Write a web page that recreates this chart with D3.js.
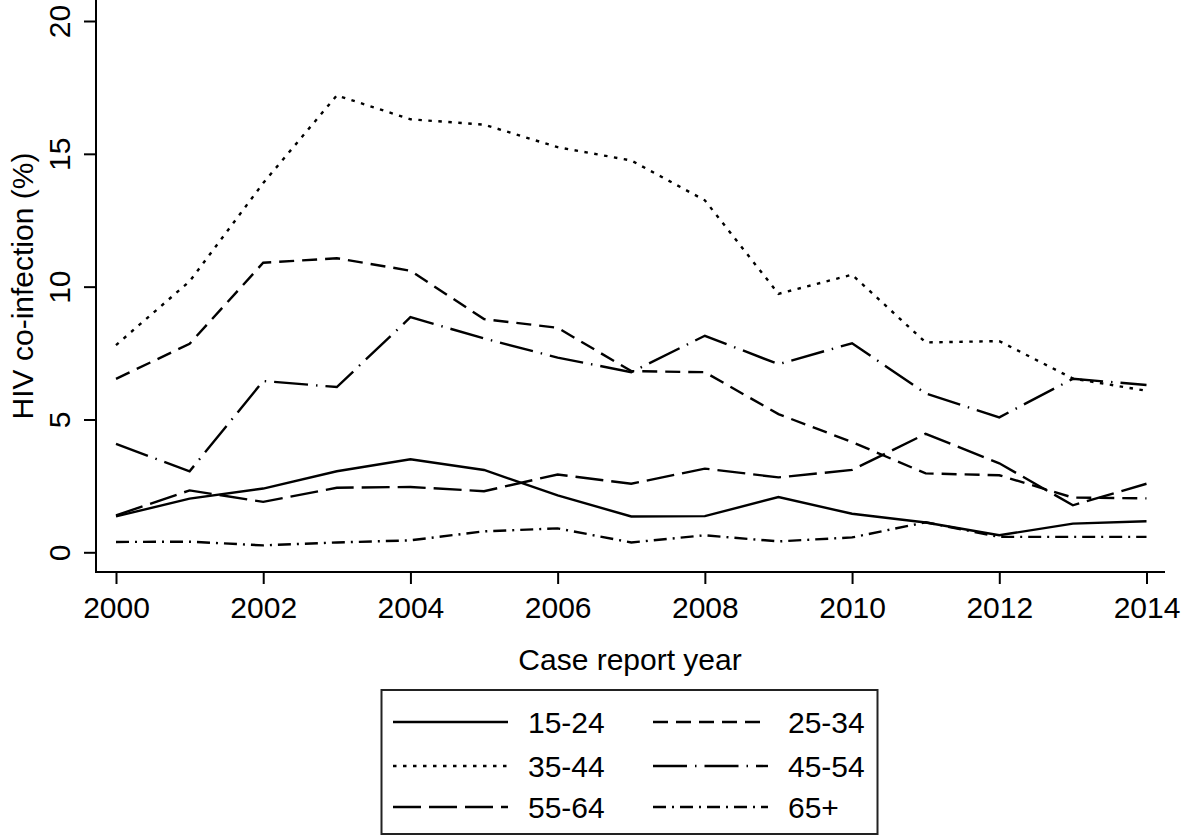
<!DOCTYPE html>
<html>
<head>
<meta charset="utf-8">
<script src="https://cdn.jsdelivr.net/npm/d3@7"></script>
<style>
  html, body { margin: 0; padding: 0; background: #fff; }
  svg { display: block; font-family: "Liberation Sans", Arial, sans-serif; }
</style>
</head>
<body>
<svg id="chart" width="1181" height="837"></svg>
<script>
// ---- data ----
const years = [2000,2001,2002,2003,2004,2005,2006,2007,2008,2009,2010,2011,2012,2013,2014];
const ages = ["15-24","25-34","35-44","45-54","55-64","65+"];
const s15_24 = [1.35,2.02,2.4,3.05,3.5,3.1,2.14,1.35,1.36,2.08,1.45,1.12,0.64,1.08,1.17];
const s25_34 = [6.53,7.85,10.9,11.07,10.6,8.78,8.45,6.82,6.78,5.2,4.15,2.97,2.9,2.06,2.03];
const s35_44 = [7.8,10.2,13.9,17.2,16.3,16.1,15.25,14.75,13.25,9.73,10.45,7.9,7.95,6.54,6.08];
const s45_54 = [4.08,3.05,6.45,6.22,8.85,8.05,7.33,6.78,8.15,7.08,7.87,5.98,5.08,6.53,6.3];
const s55_64 = [1.39,2.33,1.9,2.43,2.46,2.3,2.93,2.58,3.15,2.82,3.1,4.46,3.35,1.77,2.58];
const s65p   = [0.39,0.4,0.26,0.37,0.45,0.79,0.9,0.37,0.64,0.41,0.56,1.13,0.58,0.58,0.58];
const seriesValues = [s15_24, s25_34, s35_44, s45_54, s55_64, s65p];
const xTicks = [2000,2002,2004,2006,2008,2010,2012,2014];
const yTicks = [0,5,10,15,20];
const xTitle = "Case report year";
const yTitle = "HIV co-infection (%)";

// ---- styles ----
const dashes = ["none", "15,8", "3.5,6.5", "34,8,1.5,8", "28,8", "13,6,2,6"];

const svg = d3.select("#chart");
const x = d3.scaleLinear().domain([2000, 2014]).range([116, 1146.5]);
const y = d3.scaleLinear().domain([0, 20]).range([552.3, 21]);
const FS = 30;

// axes
const xAxisG = svg.append("g").attr("transform", "translate(0,572)");
xAxisG.append("line").attr("x1", 96).attr("x2", 1165).attr("y1", 0).attr("y2", 0)
  .attr("stroke", "#000").attr("stroke-width", 2);
xAxisG.call(g => {
  const ax = d3.axisBottom(x).tickValues(xTicks).tickFormat(d3.format("d")).tickSize(12).tickPadding(13);
  const inner = g.append("g").call(ax);
  inner.select(".domain").remove();
  inner.selectAll(".tick line").attr("stroke", "#000").attr("stroke-width", 2);
  inner.selectAll(".tick text").attr("font-size", FS).attr("fill", "#000")
    .attr("font-family", "Liberation Sans, Arial, sans-serif");
});

const yAxisG = svg.append("g").attr("transform", "translate(96,0)");
yAxisG.append("line").attr("x1", 0).attr("x2", 0).attr("y1", 0).attr("y2", 573)
  .attr("stroke", "#000").attr("stroke-width", 2);
yAxisG.call(g => {
  const ax = d3.axisLeft(y).tickValues(yTicks).tickSize(12).tickPadding(0);
  const inner = g.append("g").call(ax);
  inner.select(".domain").remove();
  inner.selectAll(".tick line").attr("stroke", "#000").attr("stroke-width", 2);
  inner.selectAll(".tick text").remove();
  inner.selectAll(".tick").append("text")
    .attr("transform", "translate(-26,0) rotate(-90)")
    .attr("text-anchor", "middle")
    .attr("font-size", FS).attr("fill", "#000")
    .text(d => d);
});

// titles
svg.append("text").attr("x", 630).attr("y", 670).attr("text-anchor", "middle")
  .attr("font-size", FS).attr("fill", "#000").text(xTitle);
svg.append("text").attr("transform", "translate(33,286) rotate(-90)")
  .attr("text-anchor", "middle").attr("font-size", FS).attr("fill", "#000").text(yTitle);

// lines
const line = d3.line().x((d, i) => x(years[i])).y(d => y(d));
seriesValues.forEach((vals, k) => {
  svg.append("path").datum(vals).attr("d", line)
    .attr("fill", "none").attr("stroke", "#000").attr("stroke-width", 2.4)
    .attr("stroke-dasharray", dashes[k]).attr("stroke-linejoin", "miter");
});

// legend
const lg = svg.append("g");
lg.append("rect").attr("x", 381.5).attr("y", 690).attr("width", 496).attr("height", 144)
  .attr("fill", "#fff").attr("stroke", "#222").attr("stroke-width", 2);
const colX = [393, 653];
const rowY = [722, 766, 807];
ages.forEach((a, i) => {
  const c = i % 2, r = Math.floor(i / 2);
  lg.append("line").attr("x1", colX[c]).attr("x2", colX[c] + 115)
    .attr("y1", rowY[r]).attr("y2", rowY[r])
    .attr("stroke", "#000").attr("stroke-width", 2.4).attr("stroke-dasharray", dashes[i]);
  lg.append("text").attr("x", colX[c] + 135).attr("y", rowY[r] + 11)
    .attr("font-size", FS).attr("fill", "#000").text(a);
});
</script>
</body>
</html>
